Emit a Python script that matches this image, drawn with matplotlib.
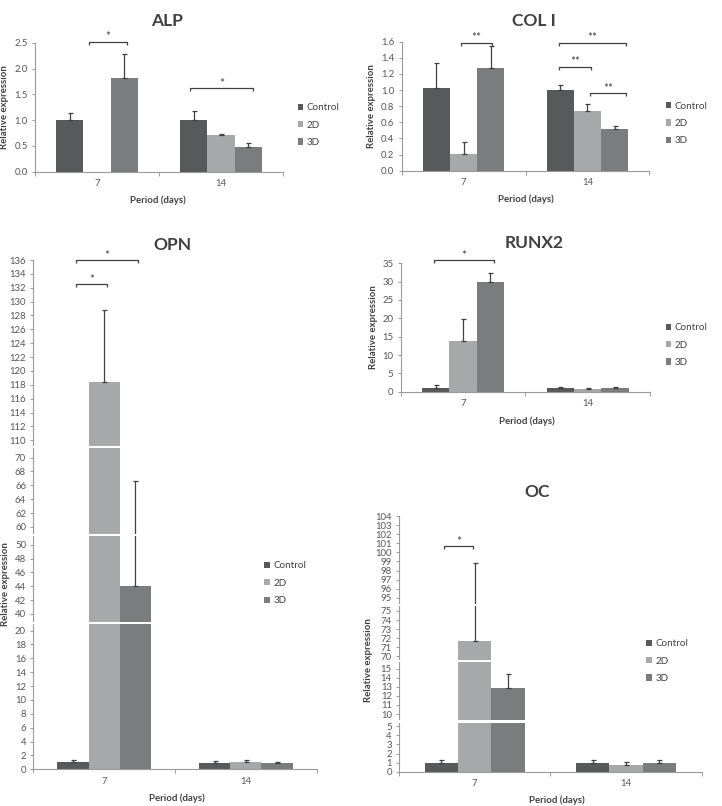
import numpy as np
import matplotlib
matplotlib.use("Agg")
import matplotlib.pyplot as plt
from matplotlib.patches import Patch
from matplotlib.ticker import FixedLocator, NullLocator, FormatStrFormatter

plt.rcParams['font.family'] = ['Lato', 'DejaVu Sans']

W, H = 722, 806

periods = ['7', '14']
groups = ['Control', '2D', '3D']
colors = ['#58595b', '#a7a8aa', '#7b7c7e']

# rows: Control, 2D, 3D ; columns: day 7, day 14
alp_mean = [[1.00, 1.00], [np.nan, 0.72], [1.81, 0.48]]
alp_err = [[0.14, 0.18], [np.nan, 0.02], [0.47, 0.08]]

col1_mean = [[1.03, 1.00], [0.21, 0.745], [1.27, 0.52]]
col1_err = [[0.31, 0.06], [0.14, 0.085], [0.28, 0.03]]

opn_mean = [[1.00, 0.96], [118.4, 1.06], [44.1, 0.87]]
opn_err = [[0.35, 0.25], [10.4, 0.30], [22.6, 0.25]]

runx2_mean = [[1.1, 1.1], [13.9, 0.8], [29.8, 1.1]]
runx2_err = [[0.6, 0.25], [5.8, 0.3], [2.6, 0.25]]

oc_mean = [[1.00, 0.99], [71.65, 0.73], [12.85, 0.99]]
oc_err = [[0.28, 0.26], [27.2, 0.33], [1.6, 0.26]]

# significance brackets: (x start, x end, height, label) in category units
alp_sig = [(-0.062, 0.239, 2.52, '*'), (0.75, 1.26, 1.615, '*')]
col1_sig = [(-0.02, 0.23, 1.59, '**'), (0.774, 1.31, 1.59, '**'),
            (0.774, 1.03, 1.29, '**'), (1.02, 1.31, 0.96, '**')]
opn_sig = [(-0.198, 0.022, 132.5, '*'), (-0.198, 0.24, 136.0, '*')]
runx2_sig = [(-0.233, 0.249, 35.9, '*')]
oc_sig = [(-0.205, -0.01, 100.66, '*')]

# broken axis segments
opn_segments = [(0, 20.95), (38.85, 51.2), (58.95, 71.35), (109.15, 136)]
oc_segments = [(0, 5.4), (9.3, 15.7), (69.6, 75.5), (94.3, 104)]

opn_ticks = list(range(0, 21, 2)) + list(range(40, 51, 2)) + list(range(60, 71, 2)) + list(range(110, 137, 2))
oc_ticks = list(range(0, 6)) + list(range(10, 16)) + list(range(70, 76)) + list(range(95, 105))

TXT = '#404040'
TICK = '#555555'
SPINE = '#9a9a9a'

fig = plt.figure(figsize=(W / 100, H / 100), dpi=100)


def make_ax(left, top, right, bottom):
    return fig.add_axes([left / W, (H - bottom) / H, (right - left) / W, (bottom - top) / H])


def broken_scale(segments, gap):
    xs = [segments[0][0] - 1000]
    ys = [-1000]
    pos = 0.0
    for i, (lo, hi) in enumerate(segments):
        if i > 0:
            pos += gap
        xs += [lo, hi]
        ys += [pos, pos + hi - lo]
        pos += hi - lo
    xs.append(segments[-1][1] + 1000)
    ys.append(pos + 1000)
    xs = np.array(xs, float)
    ys = np.array(ys, float)

    def fwd(v):
        return np.interp(v, xs, ys)

    def inv(v):
        return np.interp(v, ys, xs)
    return fwd, inv, pos


def draw_panel(box, mean, err, sig, ylim, yticks, fmt, title, title_xy,
               xlabel_xy, ylabel_xy, legend_xy, xmax=1.5, segments=None, gap=0.3):
    left, top, right, bottom = box
    ax = make_ax(*box)
    x = np.arange(len(periods))
    width = 0.22
    if segments is not None:
        fwd, inv, span = broken_scale(segments, gap)
        ax.set_yscale('function', functions=(fwd, inv))
        unit = span / (bottom - top)
    else:
        unit = (ylim[1] - ylim[0]) / (bottom - top)

    for i, g in enumerate(groups):
        m = np.array(mean[i], float)
        e = np.array(err[i], float)
        ok = np.isfinite(m)
        xi = x[ok] + (i - 1) * width
        ax.bar(xi, m[ok], width=width, color=colors[i], zorder=2, label=g)
        ax.errorbar(xi, m[ok], yerr=[np.zeros(ok.sum()), e[ok]], fmt='none',
                    ecolor=TXT, elinewidth=0.9, capsize=1.8, capthick=0.9, zorder=3)

    ax.set_ylim(*ylim)
    ax.set_xlim(-0.5, xmax)

    if segments is not None:
        for (lo, hi), (lo2, hi2) in zip(segments[:-1], segments[1:]):
            ax.axhspan(hi, lo2, xmin=-0.012, xmax=1, color='white', zorder=6,
                       clip_on=False, lw=0)

    # significance brackets
    d = 3 * unit
    for x0, x1, y, lab in sig:
        ax.plot([x0, x0, x1, x1], [y - d, y, y, y - d], color=TXT, lw=0.9,
                zorder=4, clip_on=False, solid_capstyle='butt')
        ax.text((x0 + x1) / 2, y + 1.2 * unit, lab, ha='center', va='baseline',
                fontsize=8.5, color=TXT, clip_on=False)

    for s in ['top', 'right']:
        ax.spines[s].set_visible(False)
    for s in ['left', 'bottom']:
        ax.spines[s].set_color(SPINE)
        ax.spines[s].set_linewidth(0.8)

    ax.yaxis.set_major_locator(FixedLocator(yticks))
    ax.yaxis.set_minor_locator(NullLocator())
    ax.yaxis.set_major_formatter(FormatStrFormatter(fmt))
    ax.tick_params(axis='y', length=2.2, width=0.7, color=SPINE, labelsize=6.9,
                   labelcolor=TICK, pad=3)

    ax.set_xticks([-0.5, 0.5, 1.5])
    ax.set_xticklabels([])
    ax.set_xticks(x, minor=True)
    ax.set_xticklabels(periods, minor=True)
    ax.tick_params(axis='x', which='major', length=3, width=0.7, color=SPINE)
    ax.tick_params(axis='x', which='minor', length=0, labelsize=6.9,
                   labelcolor=TICK, pad=5.5)

    fx = lambda px: (px - left) / (right - left)
    fy = lambda py: (bottom - py) / (bottom - top)
    ax.set_xlabel('Period (days)', fontsize=6.9, fontweight='bold', color=TXT, va='center')
    ax.xaxis.set_label_coords(fx(xlabel_xy[0]), fy(xlabel_xy[1]))
    ax.set_ylabel('Relative expression', fontsize=6.9, fontweight='bold', color=TXT, va='center')
    ax.yaxis.set_label_coords(fx(ylabel_xy[0]), fy(ylabel_xy[1]))

    fig.text(title_xy[0] / W, (H - title_xy[1]) / H, title, ha='center', va='center',
             fontsize=12.5, fontweight='bold', color=TXT)

    handles = [Patch(facecolor=c, edgecolor='none') for c in colors]
    leg = ax.legend(handles, groups, loc='center left', frameon=False,
                    bbox_to_anchor=(legend_xy[0] / W, (H - legend_xy[1]) / H),
                    bbox_transform=fig.transFigure, borderpad=0, borderaxespad=0,
                    handlelength=0.6, handleheight=0.6, handletextpad=0.35,
                    labelspacing=0.85, fontsize=7.1, labelcolor=TXT)
    leg.set_zorder(10)
    return ax


draw_panel((35, 42.7, 283, 171.7), alp_mean, alp_err, alp_sig, (0, 2.5),
           np.arange(0, 2.51, 0.5), '%.1f', 'ALP', (167, 21),
           (158.3, 200), (5, 106.7), (297.5, 125))

draw_panel((401.7, 41.7, 649.3, 170.7), col1_mean, col1_err, col1_sig, (0, 1.6),
           np.arange(0, 1.61, 0.2), '%.1f', 'COL I', (534, 21),
           (525.8, 199), (371.7, 105.8), (665.5, 123.5))

draw_panel((33.3, 260, 316.7, 769.3), opn_mean, opn_err, opn_sig, (0, 136),
           opn_ticks, '%d', 'OPN', (172, 245),
           (176.7, 798.3), (5, 584.5), (264, 583.3), segments=opn_segments, gap=0.3)

draw_panel((400.7, 263.3, 650, 391.7), runx2_mean, runx2_err, runx2_sig, (0, 35),
           list(range(0, 36, 5)), '%d', 'RUNX2', (534, 242.7),
           (526.7, 421.7), (374, 327.5), (665.5, 345))

draw_panel((399, 516, 701.7, 771.7), oc_mean, oc_err, oc_sig, (0, 104),
           oc_ticks, '%d', 'OC', (536.7, 491.7),
           (556.7, 800), (368.3, 660), (645.8, 661), xmax=1.404,
           segments=oc_segments, gap=0.25)

fig.savefig('out.png', dpi=100)
